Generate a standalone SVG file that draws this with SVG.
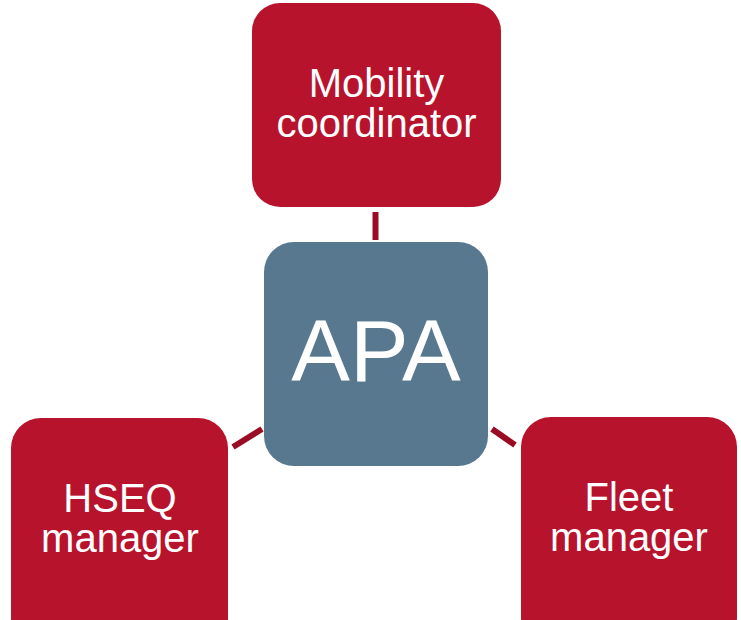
<svg xmlns="http://www.w3.org/2000/svg" width="741" height="620" viewBox="0 0 741 620">
<style>
.box{fill:#B8132D;}
.apa{fill:#57788F;}
.lbl{font-family:"Liberation Sans",Arial,sans-serif;font-size:40px;fill:#FFFFFF;text-anchor:middle;}
.big{font-family:"Liberation Sans",Arial,sans-serif;font-size:88px;fill:#FFFFFF;text-anchor:middle;}
.con{stroke:#9A0C24;stroke-width:6;fill:none;}
</style>
<rect width="741" height="620" fill="#FFFFFF"/>
<g id="connectors">
<line class="con" x1="375.5" y1="212" x2="375.5" y2="240"/>
<line class="con" x1="233" y1="447" x2="262" y2="429"/>
<line class="con" x1="492" y1="429" x2="515" y2="445"/>
</g>
<g id="mobility">
<rect class="box" x="252" y="3" width="249" height="204" rx="28"/>
<text class="lbl" x="376.5" y="97">Mobility</text>
<text class="lbl" x="376.5" y="137">coordinator</text>
</g>
<g id="apa">
<rect class="apa" x="264" y="242" width="224" height="224" rx="30"/>
<text class="big" x="376" y="381">APA</text>
</g>
<g id="hseq">
<rect class="box" x="11" y="418" width="217" height="230" rx="30"/>
<text class="lbl" x="120" y="512">HSEQ</text>
<text class="lbl" x="120" y="552">manager</text>
</g>
<g id="fleet">
<rect class="box" x="521" y="417" width="216" height="230" rx="30"/>
<text class="lbl" x="629" y="511">Fleet</text>
<text class="lbl" x="629" y="551">manager</text>
</g>
</svg>
